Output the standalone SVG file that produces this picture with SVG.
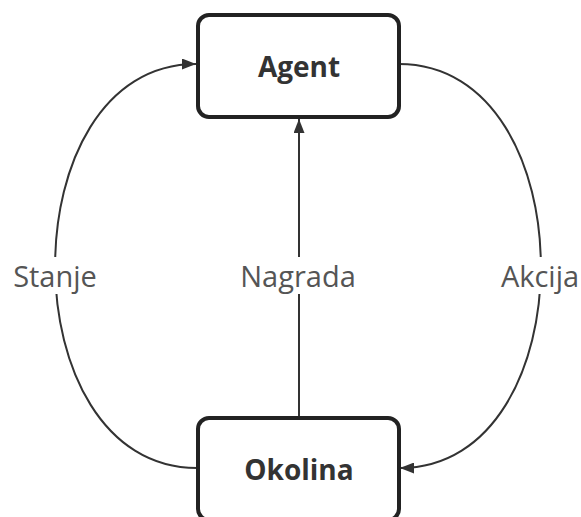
<svg xmlns="http://www.w3.org/2000/svg" width="581" height="517" viewBox="0 0 581 517">
<style>
.node{fill:#fff;stroke:#222;stroke-width:4}
.ntext{font-family:"Open Sans","Liberation Sans",sans-serif;font-weight:bold;font-size:28px;fill:#333;text-anchor:middle}
.edge{fill:none;stroke:#333;stroke-width:2}
.ltext{font-family:"Open Sans","Liberation Sans",sans-serif;font-size:29px;fill:#555;text-anchor:middle}
.lbg{fill:#fff}
</style>
<defs>
<marker id="arr" viewBox="0 0 14 11" refX="14" refY="5.5" markerWidth="14" markerHeight="11" markerUnits="userSpaceOnUse" orient="auto">
<path d="M0,0 L14,5.5 L0,11 z" fill="#333"/>
</marker>
</defs>
<rect width="581" height="517" fill="#fff"/>
<g id="connectors">
<path class="edge" d="M197,468 C8,468 8,64 196,64" marker-end="url(#arr)"/>
<path class="edge" d="M399,64 C588,64 588,468 400,468" marker-end="url(#arr)"/>
<path class="edge" d="M299,417 L299,119" marker-end="url(#arr)"/>
<rect class="lbg" x="6" y="257" width="99" height="37"/>
<text class="ltext" x="55" y="287">Stanje</text>
<rect class="lbg" x="234" y="257" width="128" height="37"/>
<text class="ltext" x="298" y="287">Nagrada</text>
<rect class="lbg" x="496" y="257" width="85" height="37"/>
<text class="ltext" x="540" y="287">Akcija</text>
</g>
<g id="agent">
<rect class="node" x="198" y="15" width="201" height="102" rx="11"/>
<text class="ntext" x="299" y="77">Agent</text>
</g>
<g id="okolina">
<rect class="node" x="198" y="418" width="201" height="102" rx="11"/>
<text class="ntext" x="299" y="480">Okolina</text>
</g>
</svg>
